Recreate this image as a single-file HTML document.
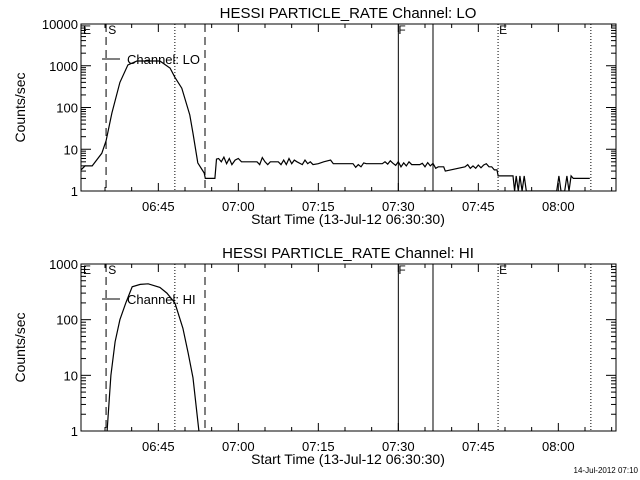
<!DOCTYPE html>
<html><head><meta charset="utf-8"><style>
html,body{margin:0;padding:0;background:#fff;}
svg{display:block;font-family:"Liberation Sans",sans-serif;}
</style></head><body>
<svg id="c" width="640" height="480" viewBox="0 0 640 480"></svg>
<script>
// LO channel data (minutes after 06:30)
const loTimes=[0.5,1.25,2.6,4.4,5.2,6.3,7.8,9.3,11,15.3,17.2,18.1,19.4,20.9,21.5,22.4,23.6,23.8,25.6,25.9,
26.3,26.8,27.3,27.8,28.3,28.8,29.4,30,30.6,33.5,34,34.5,35,35.5,36,37.5,38,38.5,39,39.5,40,40.5,41,42,42.5,43,43.5,44,45,46,47.3,47.8,51.5,52,52.5,53,53.5,54,57,57.5,58,58.5,59,59.5,60,60.5,61,61.5,62,62.5,64,64.5,65,65.5,66,66.5,67,67.5,68.5,68.8,72.5,73,73.5,74,74.5,75,75.5,76,76.5,77,77.5,78,78.5,
78.7,81.5,81.8,82.1,82.5,82.8,83.2,83.6,84.0,89.7,90.1,90.5,91.2,91.6,92,92.4,92.8,95.9];
const loValues=[3.2,4,4,8,16,74,400,1050,1300,1300,880,530,290,66,24,4.7,2.7,2,2,5.8,
6,5,6.5,4.5,6,4.3,5.5,6,5,5,4.3,6.3,5,4.3,5,5,4.3,5.5,4.3,6,4.5,5.5,5,4.3,5.5,4.5,5,4.3,4.5,5,5.5,4.5,4.5,3.7,4.3,3.8,4.7,4.5,4.5,5,4.4,5.3,4.6,4.1,5,3.8,4.7,4,5,4.3,4.3,4.6,3.8,4.8,4,4.6,3.5,3.8,3.8,3,3.8,4.3,3.5,4,3.5,4.2,3.6,4.2,4.5,3.8,3.8,3.2,3.2,
2.3,2.3,1,2.3,1,2.3,1,2.3,1,1,2.3,1,1,2.3,1,2.3,2,2];
// HI channel data
const hiTimes=[5.4,6.1,6.9,7.8,8.9,10.1,11.6,13.1,15.3,16.6,18.1,19.6,20.6,21.5,22.6];
const hiValues=[1,10,40,100,200,390,430,440,380,300,200,70,25,9,1];
const xTickLabels=["06:45","07:00","07:15","07:30","07:45","08:00"];
const xTickMinutes=[15,30,45,60,75,90];
const dashedLines=[5.2,23.75];
const dottedLines=[18.1,78.7,96.1];
const solidLines=[60,66.5];

const S=document.getElementById('c');const NS='http://www.w3.org/2000/svg';
function el(t,a,p){const e=document.createElementNS(NS,t);for(const k in a)e.setAttribute(k,a[k]);(p||S).appendChild(e);return e;}
const X0=81,X1=616,tMin=0.5,tMax=0.5+(616-81)/5.3333;
function xs(t){return X0+(t-tMin)/(tMax-tMin)*(X1-X0);}

function panel(cfg){
  const {top,bot,decades,title,label,times,vals,name}=cfg;
  const g=el('g',{});
  const ys=v=>bot-Math.log10(Math.max(v,1e-3))/decades*(bot-top);
  const t=el('text',{x:348,y:top-6,'text-anchor':'middle','font-size':15},g);t.textContent=title;
  
  el('rect',{x:X0,y:top,width:X1-X0,height:bot-top,fill:'none',stroke:'#000','stroke-width':1},g);
  for(let d=0;d<=decades;d++){
    const y=ys(Math.pow(10,d));
    el('line',{x1:X0,x2:X0+10,y1:y,y2:y,stroke:'#000'},g);
    el('line',{x1:X1-10,x2:X1,y1:y,y2:y,stroke:'#000'},g);
    const tl=el('text',{x:X0-3,y:y+5,'text-anchor':'end','font-size':13},g);tl.textContent=String(Math.pow(10,d));
    
    if(d<decades)for(let m=2;m<10;m++){const ym=ys(m*Math.pow(10,d));
      el('line',{x1:X0,x2:X0+5,y1:ym,y2:ym,stroke:'#000'},g);el('line',{x1:X1-5,x2:X1,y1:ym,y2:ym,stroke:'#000'},g);}
  }
  for(let m=5;m<tMax;m+=5){const x=xs(m);const maj=m%15===0;const L=maj?8:4;
    el('line',{x1:x,x2:x,y1:bot,y2:bot-L,stroke:'#000'},g);el('line',{x1:x,x2:x,y1:top,y2:top+L,stroke:'#000'},g);}
  xTickLabels.forEach((s,i)=>{const tl=el('text',{x:xs(xTickMinutes[i]),y:bot+20,'text-anchor':'middle','font-size':13},g);tl.textContent=s;
    });
  const xt=el('text',{x:348,y:bot+33,'text-anchor':'middle','font-size':14},g);xt.textContent='Start Time (13-Jul-12 06:30:30)';
  
  const yt=el('text',{x:0,y:0,'text-anchor':'middle','font-size':14,transform:`translate(25,${(top+bot)/2}) rotate(-90)`},g);yt.textContent='Counts/sec';
  
  dashedLines.forEach(t=>{const l=el('line',{x1:xs(t),x2:xs(t),y1:top,y2:bot,stroke:'#000','stroke-dasharray':'8,5'},g);});
  dottedLines.forEach(t=>{const l=el('line',{x1:xs(t),x2:xs(t),y1:top,y2:bot,stroke:'#000','stroke-dasharray':'1,2'},g);});
  solidLines.forEach(t=>{const l=el('line',{x1:xs(t),x2:xs(t),y1:top,y2:bot,stroke:'#000'},g);});
  [['E',X0+2],['S',xs(5.6)],['F',xs(60)],['E',xs(78.9)]].forEach(([s,x])=>{const tl=el('text',{x:x,y:top+10,'font-size':12},g);tl.textContent=s;
    });
  el('line',{x1:102,x2:120,y1:top+35,y2:top+35,stroke:'#000'},g);
  const lt=el('text',{x:127,y:top+40,'font-size':13},g);lt.textContent=label;
  
  const cid='clip'+name;const cp=el('clipPath',{id:cid},g);el('rect',{x:X0,y:top,width:X1-X0,height:bot-top},cp);
  const d=times.map((t,i)=>(i?'L':'M')+xs(t).toFixed(1)+','+ys(vals[i]).toFixed(1)).join('');
  const p=el('path',{d:d,fill:'none',stroke:'#000','stroke-width':1.2,'clip-path':`url(#${cid})`},g);
  
}
panel({top:24,bot:191,decades:4,title:'HESSI PARTICLE_RATE Channel: LO',label:'Channel: LO',times:loTimes,vals:loValues,name:'lo-panel'});
panel({top:264,bot:431,decades:3,title:'HESSI PARTICLE_RATE Channel: HI',label:'Channel: HI',times:hiTimes,vals:hiValues,name:'hi-panel'});
const ds=el('text',{x:638,y:473,'text-anchor':'end','font-size':8});ds.textContent='14-Jul-2012 07:10';

</script>
</body></html>
